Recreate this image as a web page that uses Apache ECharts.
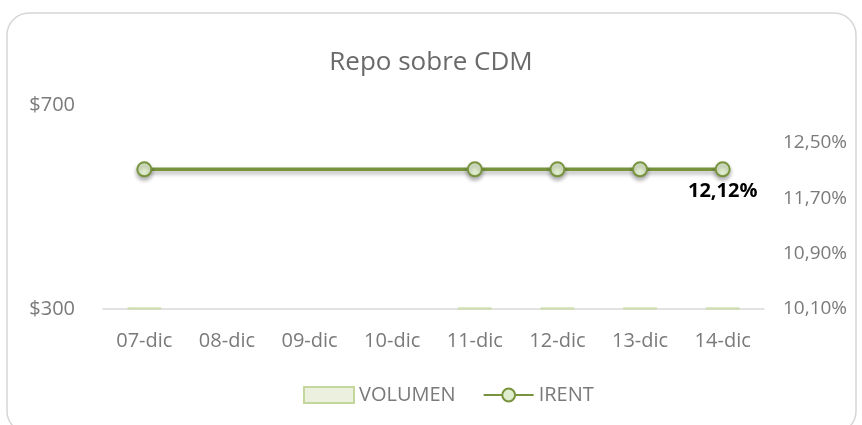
<!DOCTYPE html>
<html style="height: 100%">
<head>
    <meta charset="utf-8">
    <script src="https://cdn.jsdelivr.net/npm/echarts@6/dist/echarts.min.js"></script>
</head>
<body style="height: 100%; margin: 0; background-color: #fff">
<div id="container" style="height: 425px; width: 862px"></div>
<script type="text/javascript">
    var dias = ['07-dic', '08-dic', '09-dic', '10-dic', '11-dic', '12-dic', '13-dic', '14-dic'];
    var volumen = [303, null, null, null, 303, 303, 303, 303];
    var irent = [12.12, null, null, null, 12.12, 12.12, 12.12, 12.12];
    var ticksIzq = [300, 700];
    var ticksDer = [10.10, 10.90, 11.70, 12.50];

    var gris = '#7a7a7a';
    var fuente = '"Open Sans", sans-serif';

    var dom = document.getElementById('container');
    var myChart = echarts.init(dom);

    // solo el ultimo punto lleva etiqueta
    var irentData = irent.map(function (v, i) {
        if (i === irent.length - 1) {
            return {
                value: v,
                label: {
                    show: true,
                    position: 'bottom',
                    distance: 4,
                    fontFamily: fuente,
                    fontSize: 20,
                    fontWeight: 'bold',
                    color: '#000',
                    formatter: function (p) {
                        return p.value.toFixed(2).replace('.', ',') + '%';
                    }
                }
            };
        }
        return v;
    });

    function esTick(v, lista) {
        for (var i = 0; i < lista.length; i++) {
            if (Math.abs(v - lista[i]) < 1e-6) return true;
        }
        return false;
    }

    var option = {
        animation: false,
        textStyle: { fontFamily: fuente },
        graphic: [{
            type: 'rect',
            z: -10,
            shape: { x: 7, y: 13, width: 849, height: 420, r: 22 },
            style: { fill: '#fff', stroke: '#d6d6d6', lineWidth: 1.5 }
        }],
        title: {
            text: 'Repo sobre CDM',
            left: 'center',
            top: 45,
            textStyle: { fontFamily: fuente, fontSize: 26, fontWeight: 'normal', color: '#6a6a6a' }
        },
        legend: {
            left: 298,
            top: 380,
            itemWidth: 50,
            itemHeight: 16,
            itemGap: 27,
            textStyle: { fontFamily: fuente, fontSize: 20, color: gris },
            data: [{ name: 'VOLUMEN', icon: 'rect' }, 'IRENT']
        },
        grid: { left: 103, right: 98, top: 105, bottom: 116 },
        xAxis: {
            type: 'category',
            data: dias,
            axisLine: { lineStyle: { color: '#d9d9d9', width: 1.5 } },
            axisTick: { show: false },
            axisLabel: { margin: 22, fontFamily: fuente, fontSize: 20, color: gris }
        },
        yAxis: [{
            type: 'value',
            min: 300,
            max: 700,
            interval: 100,
            splitLine: { show: false },
            axisLine: { show: false },
            axisTick: { show: false },
            axisLabel: {
                margin: 28,
                fontFamily: fuente,
                fontSize: 20,
                color: gris,
                formatter: function (v) {
                    return esTick(v, ticksIzq) ? '$' + v : '';
                }
            }
        }, {
            type: 'value',
            min: 10.1,
            max: 13.05,
            interval: 0.1,
            splitLine: { show: false },
            axisLine: { show: false },
            axisTick: { show: false },
            axisLabel: {
                margin: 19,
                showMaxLabel: false,
                fontFamily: fuente,
                fontSize: 19,
                color: gris,
                padding: [8, 0, 0, 0],
                formatter: function (v) {
                    return esTick(v, ticksDer) ? v.toFixed(2).replace('.', ',') + '%' : '';
                }
            }
        }],
        series: [{
            name: 'VOLUMEN',
            type: 'bar',
            yAxisIndex: 0,
            barWidth: 34,
            data: volumen,
            itemStyle: { color: '#ebf1de', borderColor: '#c3d69b', borderWidth: 1 }
        }, {
            name: 'IRENT',
            type: 'line',
            yAxisIndex: 1,
            data: irentData,
            connectNulls: true,
            symbol: 'circle',
            symbolSize: 14,
            lineStyle: {
                color: '#77933c',
                width: 3.5,
                shadowBlur: 4,
                shadowColor: 'rgba(0,0,0,0.3)',
                shadowOffsetY: 3
            },
            itemStyle: {
                color: '#dfeccd',
                borderColor: '#77933c',
                borderWidth: 2,
                shadowBlur: 4,
                shadowColor: 'rgba(0,0,0,0.3)',
                shadowOffsetY: 3
            }
        }]
    };

    myChart.setOption(option);
</script>
</body>
</html>
